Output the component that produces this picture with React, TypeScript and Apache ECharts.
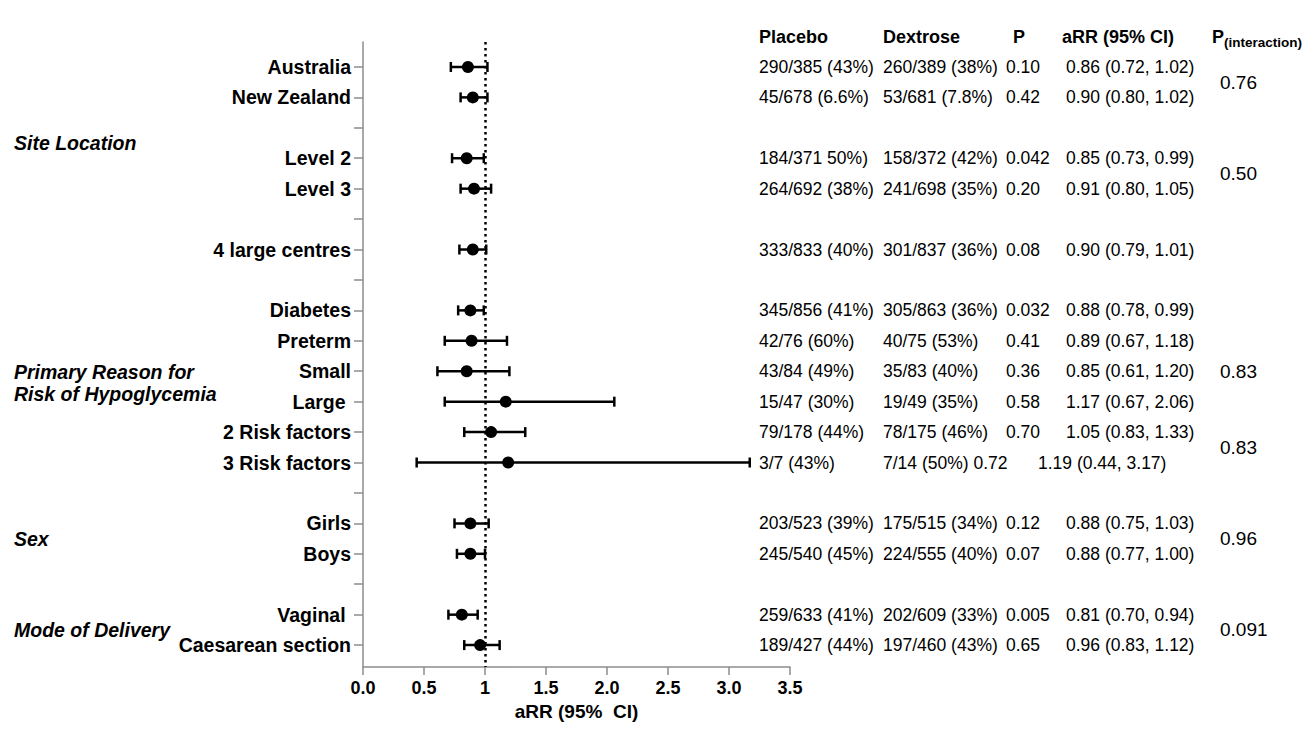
import React, { useEffect, useRef } from "react";
import * as echarts from "echarts";

const rowLabels = [
  "Australia", "New Zealand", "",
  "Level 2", "Level 3", "",
  "4 large centres", "",
  "Diabetes", "Preterm", "Small", "Large\u00a0", "2 Risk factors", "3 Risk factors", "",
  "Girls", "Boys", "",
  "Vaginal\u00a0", "Caesarean section",
];
const aRR: (number | null)[] = [0.86, 0.90, null, 0.85, 0.91, null, 0.90, null, 0.88, 0.89, 0.85, 1.17, 1.05, 1.19, null, 0.88, 0.88, null, 0.81, 0.96];
const ciLow: (number | null)[] = [0.72, 0.80, null, 0.73, 0.80, null, 0.79, null, 0.78, 0.67, 0.61, 0.67, 0.83, 0.44, null, 0.75, 0.77, null, 0.70, 0.83];
const ciHigh: (number | null)[] = [1.02, 1.02, null, 0.99, 1.05, null, 1.01, null, 0.99, 1.18, 1.20, 2.06, 1.33, 3.17, null, 1.03, 1.00, null, 0.94, 1.12];

const placebo = ["290/385 (43%)", "45/678 (6.6%)", "", "184/371 50%)", "264/692 (38%)", "", "333/833 (40%)", "", "345/856 (41%)", "42/76 (60%)", "43/84 (49%)", "15/47 (30%)", "79/178 (44%)", "3/7 (43%)", "", "203/523 (39%)", "245/540 (45%)", "", "259/633 (41%)", "189/427 (44%)"];
const dextrose = ["260/389 (38%)", "53/681 (7.8%)", "", "158/372 (42%)", "241/698 (35%)", "", "301/837 (36%)", "", "305/863 (36%)", "40/75 (53%)", "35/83 (40%)", "19/49 (35%)", "78/175 (46%)", "7/14 (50%) 0.72", "", "175/515 (34%)", "224/555 (40%)", "", "202/609 (33%)", "197/460 (43%)"];
const pValues = ["0.10", "0.42", "", "0.042", "0.20", "", "0.08", "", "0.032", "0.41", "0.36", "0.58", "0.70", "", "", "0.12", "0.07", "", "0.005", "0.65"];
const aRRText = ["0.86 (0.72, 1.02)", "0.90 (0.80, 1.02)", "", "0.85 (0.73, 0.99)", "0.91 (0.80, 1.05)", "", "0.90 (0.79, 1.01)", "", "0.88 (0.78, 0.99)", "0.89 (0.67, 1.18)", "0.85 (0.61, 1.20)", "1.17 (0.67, 2.06)", "1.05 (0.83, 1.33)", "1.19 (0.44, 3.17)", "", "0.88 (0.75, 1.03)", "0.88 (0.77, 1.00)", "", "0.81 (0.70, 0.94)", "0.96 (0.83, 1.12)"];
const compactRows = ["3 Risk factors"];

const pInteraction = ["0.76", "0.50", "0.83", "0.83", "0.96", "0.091"];
const pInteractionRow = [0.5, 3.5, 10, 12.5, 15.5, 18.5];

const groupNames = [["Site Location"], ["Primary Reason for", "Risk of Hypoglycemia"], ["Sex"], ["Mode of Delivery"]];
const groupRow = [2.5, 10.4, 15.5, 18.5];

const headers = ["Placebo", "Dextrose", "P", "aRR (95% CI)"];
const xTicks = ["0.0", "0.5", "1", "1.5", "2.0", "2.5", "3.0", "3.5"];

const FONT = "'Liberation Sans', Arial, Helvetica, sans-serif";

export default function App() {
  const ref = useRef<HTMLDivElement>(null);
  useEffect(() => {
    document.body.style.margin = "0";
    const chart = echarts.init(ref.current!, null, { renderer: "svg" });
    const rowIdx = rowLabels.map((_, i) => i);
    const errData = rowIdx.filter((i) => aRR[i] != null).map((i) => [i, ciLow[i], ciHigh[i]]);
    const ptData = rowIdx.filter((i) => aRR[i] != null).map((i) => [aRR[i], i]);
    const option: any = {
      animation: false,
      backgroundColor: "#fff",
      grid: { left: 363, right: 518, top: 42, bottom: 62 },
      xAxis: {
        type: "value",
        min: 0,
        max: 3.5,
        interval: 0.5,
        splitLine: { show: false },
        axisLine: { show: true, onZero: false, lineStyle: { color: "#8c8c8c", width: 1.5 } },
        axisTick: { show: true, length: 8, lineStyle: { color: "#8c8c8c", width: 1.5 } },
        axisLabel: {
          color: "#000",
          fontFamily: FONT,
          fontWeight: "bold",
          fontSize: 18,
          margin: 12,
          formatter: (v: number) => xTicks[Math.round(v / 0.5)] ?? "",
        },
        name: "aRR (95%  CI)",
        nameLocation: "middle",
        nameGap: 35,
        nameTextStyle: { color: "#000", fontFamily: FONT, fontWeight: "bold", fontSize: 19 },
      },
      yAxis: {
        type: "value",
        inverse: true,
        min: -0.82,
        max: 19.72,
        splitLine: { show: false },
        axisLine: { show: true, onZero: false, lineStyle: { color: "#8c8c8c", width: 1.5 } },
        axisTick: { show: true, length: 9, customValues: rowIdx, lineStyle: { color: "#8c8c8c", width: 1.5 } },
        axisLabel: {
          customValues: rowIdx,
          color: "#000",
          fontFamily: FONT,
          fontWeight: "bold",
          fontSize: 19.5,
          margin: 12,
          formatter: (v: number) => rowLabels[Math.round(v)] ?? "",
        },
      },
      series: [
        {
          type: "custom",
          data: errData,
          renderItem: (params: any, api: any) => {
            const row = api.value(0);
            const lo = api.coord([api.value(1), row]);
            const hi = api.coord([api.value(2), row]);
            const cap = 5;
            const style = { stroke: "#000", lineWidth: 2.5, fill: "none" };
            return {
              type: "group",
              children: [
                { type: "line", shape: { x1: lo[0], y1: lo[1], x2: hi[0], y2: hi[1] }, style },
                { type: "line", shape: { x1: lo[0], y1: lo[1] - cap, x2: lo[0], y2: lo[1] + cap }, style },
                { type: "line", shape: { x1: hi[0], y1: hi[1] - cap, x2: hi[0], y2: hi[1] + cap }, style },
              ],
            };
          },
          encode: { x: [1, 2], y: 0 },
          z: 2,
        },
        {
          type: "scatter",
          data: ptData,
          symbol: "circle",
          symbolSize: 12,
          itemStyle: { color: "#000", opacity: 1 },
          z: 3,
          markLine: {
            silent: true,
            symbol: ["none", "none"],
            label: { show: false },
            lineStyle: { color: "#000", type: [2.5, 3.5], width: 2.5, opacity: 1 },
            data: [{ xAxis: 1 }],
          },
        },
      ],
    };
    chart.setOption(option);

    const yOf = (r: number) => chart.convertToPixel({ yAxisIndex: 0 }, r) as number;
    const colX = [759, 883, 1006, 1066];
    const tStyle = (text: string, extra: any = {}) => ({
      text,
      fill: "#000",
      font: `17.5px ${FONT}`,
      verticalAlign: "middle",
      ...extra,
    });
    const graphics: any[] = [];
    const headerX = [759, 883, 1013, 1062];
    headers.forEach((h, k) => {
      graphics.push({ type: "text", x: headerX[k], y: 37, style: tStyle(h, { font: `bold 18px ${FONT}` }) });
    });
    graphics.push({
      type: "text",
      x: 1212,
      y: 37,
      style: {
        text: "{a|P}{b|(interaction)}",
        verticalAlign: "middle",
        rich: {
          a: { fontFamily: FONT, fontWeight: "bold", fontSize: 18, fill: "#000", color: "#000" },
          b: { fontFamily: FONT, fontWeight: "bold", fontSize: 13.5, fill: "#000", color: "#000", padding: [10, 0, 0, 0] },
        },
      },
    });
    rowLabels.forEach((lab, i) => {
      const y = yOf(i);
      const compact = compactRows.includes(lab);
      if (placebo[i]) graphics.push({ type: "text", x: colX[0], y, style: tStyle(placebo[i]) });
      if (dextrose[i]) graphics.push({ type: "text", x: colX[1], y, style: tStyle(dextrose[i]) });
      if (pValues[i]) graphics.push({ type: "text", x: colX[2], y, style: tStyle(pValues[i]) });
      if (aRRText[i]) graphics.push({ type: "text", x: compact ? 1038 : colX[3], y, style: tStyle(aRRText[i]) });
    });
    pInteraction.forEach((p, k) => {
      graphics.push({ type: "text", x: 1220, y: yOf(pInteractionRow[k]), style: tStyle(p, { font: `19px ${FONT}` }) });
    });
    groupNames.forEach((lines, k) => {
      graphics.push({
        type: "text",
        x: 14,
        y: yOf(groupRow[k]),
        style: tStyle(lines.join("\n"), { font: `italic bold 19.5px ${FONT}`, lineHeight: 22 }),
      });
    });
    chart.setOption({ graphic: graphics });

    return () => chart.dispose();
  }, []);
  return <div ref={ref} style={{ width: 1308, height: 729 }} />;
}
